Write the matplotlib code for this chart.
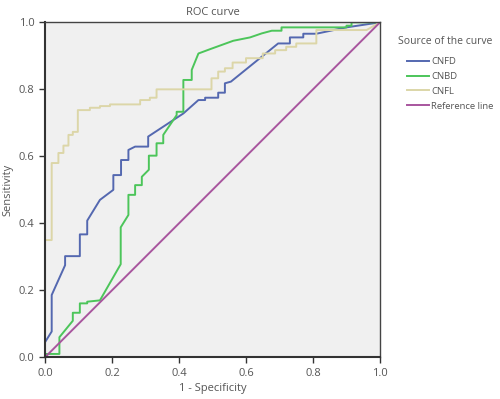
import matplotlib.pyplot as plt

plt.rcParams['font.family'] = ['Open Sans', 'DejaVu Sans']

# ROC points (1 - specificity, sensitivity)
cnfd_x = [0, 0, 0.02, 0.02, 0.06, 0.06, 0.104, 0.104, 0.126, 0.126, 0.164, 0.204, 0.204,
          0.227, 0.227, 0.249, 0.249, 0.269, 0.308, 0.308, 0.413, 0.458, 0.478, 0.478,
          0.517, 0.517, 0.537, 0.537, 0.555, 0.696, 0.731, 0.731, 0.771, 0.771, 0.81,
          0.9, 1.0]
cnfd_y = [0, 0.045, 0.077, 0.186, 0.275, 0.302, 0.302, 0.367, 0.367, 0.408, 0.47, 0.5, 0.544,
          0.544, 0.589, 0.589, 0.619, 0.629, 0.629, 0.659, 0.728, 0.768, 0.768, 0.775,
          0.775, 0.79, 0.79, 0.818, 0.823, 0.937, 0.937, 0.955, 0.955, 0.966, 0.966,
          0.985, 1.0]

cnbd_x = [0, 0, 0.043, 0.043, 0.083, 0.083, 0.104, 0.104, 0.126, 0.126, 0.164, 0.226,
          0.226, 0.249, 0.249, 0.269, 0.269, 0.289, 0.289, 0.31, 0.31, 0.333, 0.333,
          0.353, 0.353, 0.393, 0.393, 0.413, 0.413, 0.438, 0.438, 0.458, 0.493, 0.562,
          0.612, 0.647, 0.677, 0.706, 0.706, 0.9, 0.9, 0.915, 0.915, 1.0]
cnbd_y = [0, 0.01, 0.01, 0.06, 0.109, 0.133, 0.133, 0.161, 0.161, 0.166, 0.17, 0.278,
          0.388, 0.425, 0.485, 0.485, 0.514, 0.514, 0.539, 0.56, 0.602, 0.602, 0.639,
          0.639, 0.664, 0.723, 0.733, 0.733, 0.828, 0.828, 0.858, 0.907, 0.92, 0.945,
          0.955, 0.967, 0.975, 0.975, 0.985, 0.985, 0.99, 0.99, 1.0, 1.0]

cnfl_x = [0, 0, 0.02, 0.02, 0.04, 0.04, 0.055, 0.055, 0.07, 0.07, 0.083, 0.083, 0.098,
          0.098, 0.134, 0.134, 0.164, 0.164, 0.194, 0.194, 0.284, 0.284, 0.313, 0.313,
          0.333, 0.333, 0.497, 0.497, 0.517, 0.517, 0.537, 0.537, 0.56, 0.56, 0.6, 0.6,
          0.65, 0.65, 0.687, 0.687, 0.72, 0.72, 0.75, 0.75, 0.81, 0.81, 0.96, 1.0]
cnfl_y = [0, 0.35, 0.35, 0.58, 0.58, 0.61, 0.61, 0.632, 0.632, 0.664, 0.664, 0.673, 0.673,
          0.738, 0.738, 0.745, 0.745, 0.75, 0.75, 0.755, 0.755, 0.768, 0.768, 0.775,
          0.775, 0.8, 0.8, 0.833, 0.833, 0.853, 0.853, 0.863, 0.863, 0.88, 0.88, 0.893,
          0.893, 0.907, 0.907, 0.917, 0.917, 0.927, 0.927, 0.937, 0.937, 0.977, 0.977, 1.0]

ref_x = [0, 1]
ref_y = [0, 1]

ticks = [0.0, 0.2, 0.4, 0.6, 0.8, 1.0]
txt = '#555555'

fig = plt.figure(figsize=(5, 3.99), dpi=100)
ax = fig.add_axes([0.09, 0.1045, 0.67, 0.8395])
ax.set_facecolor('#f0f0f0')

ax.plot(cnfd_x, cnfd_y, color='#5468b0', lw=1.4, label='CNFD')
ax.plot(cnbd_x, cnbd_y, color='#4cc55a', lw=1.4, label='CNBD')
ax.plot(cnfl_x, cnfl_y, color='#dcd6a8', lw=1.4, label='CNFL')
ax.plot(ref_x, ref_y, color='#a8559e', lw=1.4, label='Reference line')

ax.set_xlim(0, 1)
ax.set_ylim(0, 1)
ax.set_xticks(ticks)
ax.set_yticks(ticks)
ax.set_xticklabels(['%.1f' % t for t in ticks])
ax.set_yticklabels(['%.1f' % t for t in ticks])
ax.tick_params(direction='out', length=4, width=1, colors='#333333',
               labelsize=8, labelcolor=txt)
for side in ['left', 'bottom']:
    ax.spines[side].set_linewidth(1.5)
    ax.spines[side].set_color('#333333')
for side in ['top', 'right']:
    ax.spines[side].set_linewidth(1.0)
    ax.spines[side].set_color('#444444')

ax.set_title('ROC curve', fontsize=8, color=txt, pad=5)
ax.set_xlabel('1 - Specificity', fontsize=8, color=txt, labelpad=3)
ax.set_ylabel('Sensitivity', fontsize=8, color=txt, labelpad=4)

# legend title sits left of the (indented) entries
fig.text(0.796, 1 - 42 / 399, 'Source of the curve', fontsize=7.5, color=txt,
         va='center', ha='left')
leg = fig.legend(loc='upper left', bbox_to_anchor=(0.814, 1 - 57 / 399), frameon=False,
                 fontsize=6.8, handlelength=2.3, handletextpad=0.25, labelspacing=0.62,
                 borderpad=0, borderaxespad=0)
for t in leg.get_texts():
    t.set_color(txt)

fig.savefig('out.png', dpi=100)
